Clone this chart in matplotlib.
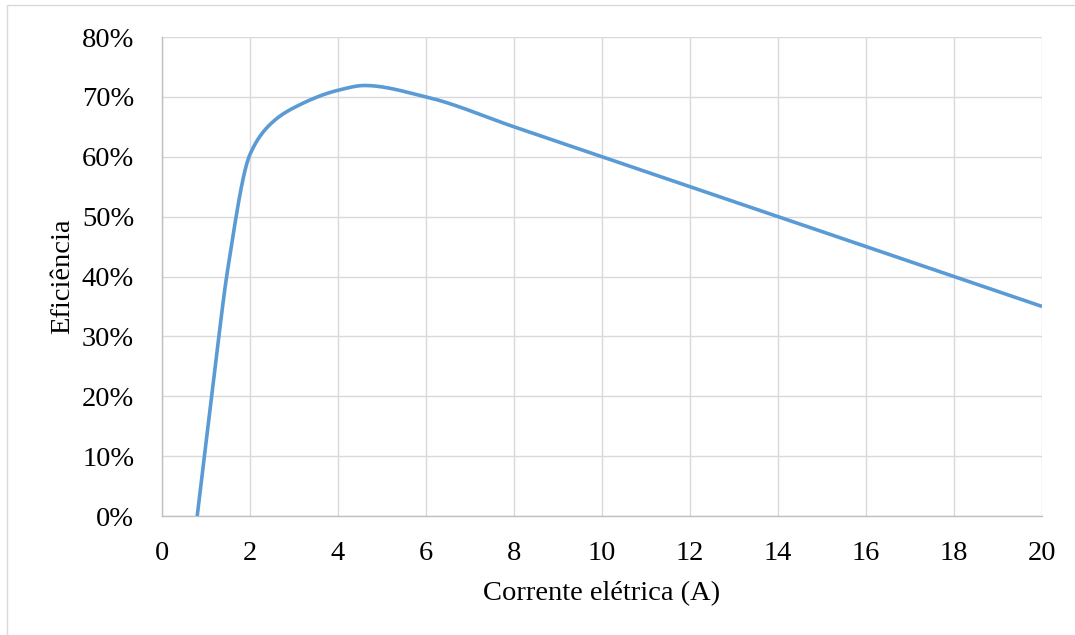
import numpy as np
import matplotlib.pyplot as plt
from matplotlib.patches import Rectangle
from matplotlib.ticker import PercentFormatter

plt.rcParams['font.family'] = ['Liberation Serif', 'DejaVu Serif']

# data
corrente = [0.8, 1.13, 1.5, 2, 2.5, 3, 4, 4.6, 6, 8, 10, 12, 14, 16, 18, 20]
eficiencia = [0.0, 0.20, 0.415, 0.604, 0.657, 0.682, 0.711, 0.719, 0.70,
              0.65, 0.60, 0.55, 0.50, 0.45, 0.40, 0.35]
x_ticks = list(range(0, 21, 2))
y_ticks = [0, 0.1, 0.2, 0.3, 0.4, 0.5, 0.6, 0.7, 0.8]


def smooth_line(x, y, n=40):
    # shape-preserving cubic (Fritsch-Carlson) so the line is smooth without wiggles
    x = np.asarray(x, float)
    y = np.asarray(y, float)
    h = np.diff(x)
    d = np.diff(y) / h
    m = np.zeros_like(y)
    for k in range(1, len(x) - 1):
        if d[k - 1] * d[k] <= 0:
            m[k] = 0.0
        else:
            w1 = 2 * h[k] + h[k - 1]
            w2 = h[k] + 2 * h[k - 1]
            m[k] = (w1 + w2) / (w1 / d[k - 1] + w2 / d[k])
    m[0] = ((2 * h[0] + h[1]) * d[0] - h[0] * d[1]) / (h[0] + h[1])
    if np.sign(m[0]) != np.sign(d[0]):
        m[0] = 0
    m[-1] = ((2 * h[-1] + h[-2]) * d[-1] - h[-1] * d[-2]) / (h[-1] + h[-2])
    if np.sign(m[-1]) != np.sign(d[-1]):
        m[-1] = 0
    xs, ys = [], []
    t = np.linspace(0, 1, n)
    for k in range(len(x) - 1):
        h00 = 2 * t ** 3 - 3 * t ** 2 + 1
        h10 = t ** 3 - 2 * t ** 2 + t
        h01 = -2 * t ** 3 + 3 * t ** 2
        h11 = t ** 3 - t ** 2
        seg_y = h00 * y[k] + h10 * h[k] * m[k] + h01 * y[k + 1] + h11 * h[k] * m[k + 1]
        seg_x = x[k] + t * h[k]
        if k > 0:
            seg_x, seg_y = seg_x[1:], seg_y[1:]
        xs.append(seg_x)
        ys.append(seg_y)
    return np.concatenate(xs), np.concatenate(ys)


fig = plt.figure(figsize=(10.75, 6.35), dpi=100)
ax = fig.add_axes([162 / 1075, 1 - 516 / 635, 880 / 1075, 479 / 635])

# outer chart border (cut off on the right and bottom)
fig.patches.append(Rectangle((7 / 1075, -0.1), 1.2, 1 - 5 / 635 + 0.1,
                             transform=fig.transFigure, fill=False,
                             edgecolor='#D9D9D9', linewidth=1.0))

sx, sy = smooth_line(corrente, eficiencia)
ax.plot(sx, sy, color='#5B9BD5', linewidth=2.6, solid_capstyle='butt', zorder=3)

ax.set_xlim(0, 20)
ax.set_ylim(0, 0.8)
ax.set_xticks(x_ticks)
ax.set_yticks(y_ticks)
ax.yaxis.set_major_formatter(PercentFormatter(1.0, decimals=0))
ax.grid(True, color='#D9D9D9', linewidth=1.0)
ax.set_axisbelow(True)
for s in ['top', 'right']:
    ax.spines[s].set_visible(False)
for s in ['left', 'bottom']:
    ax.spines[s].set_color('#BFBFBF')
    ax.spines[s].set_linewidth(1.0)
ax.tick_params(length=0, labelsize=20.5, colors='black')
ax.tick_params(axis='x', pad=18)
ax.tick_params(axis='y', pad=20)

ax.set_xlabel('Corrente elétrica (A)', fontsize=20.5, labelpad=11)
ax.set_ylabel('Eficiência', fontsize=20.5, labelpad=5)

fig.savefig('out.png', dpi=100)
